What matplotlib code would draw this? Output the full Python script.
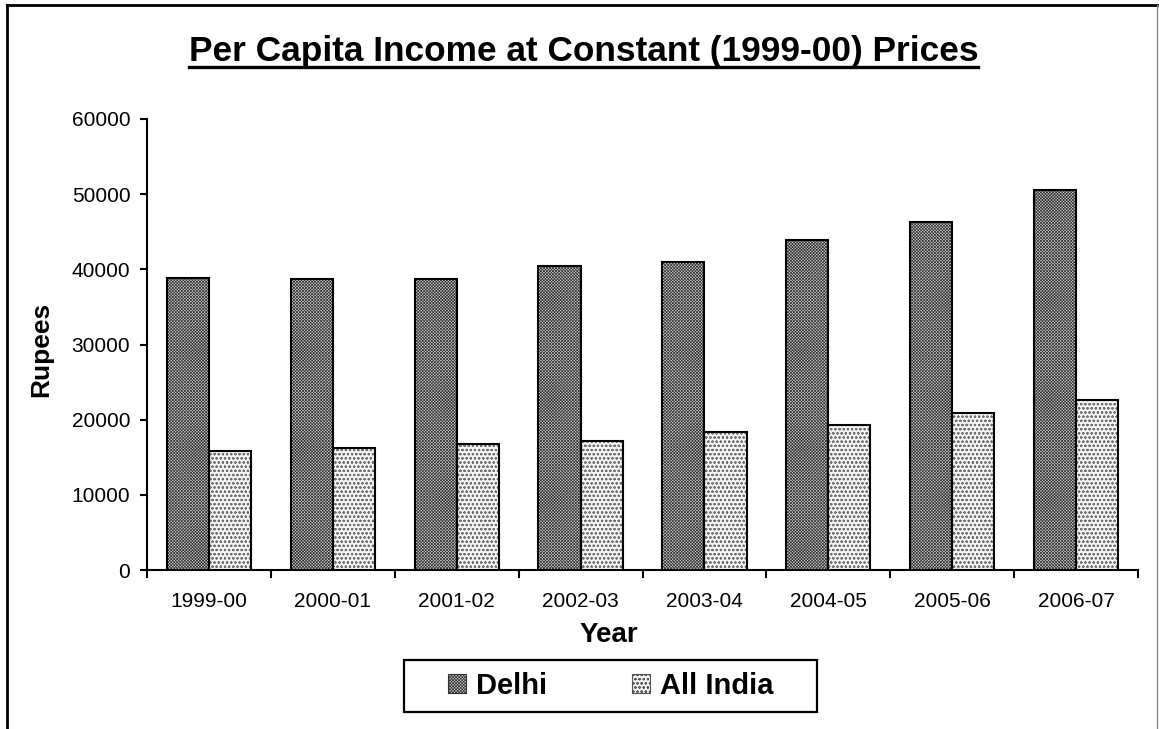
import matplotlib
matplotlib.use("Agg")
import matplotlib.pyplot as plt
import numpy as np
from matplotlib.patches import Rectangle, Patch
from matplotlib.lines import Line2D

years = ["1999-00", "2000-01", "2001-02", "2002-03", "2003-04", "2004-05", "2005-06", "2006-07"]
delhi = [38800, 38700, 38700, 40500, 41000, 43900, 46300, 50600]
all_india = [15850, 16200, 16750, 17100, 18300, 19300, 20850, 22550]
y_ticks = [0, 10000, 20000, 30000, 40000, 50000, 60000]

plt.rcParams['font.family'] = ['Liberation Sans', 'DejaVu Sans']
plt.rcParams['hatch.linewidth'] = 0.5

W, H = 1159, 729
fig = plt.figure(figsize=(W / 100, H / 100), dpi=100)
ax = fig.add_axes([147 / W, 1 - 570 / H, 991 / W, 451 / H])

x = np.arange(len(years))
bw = 0.34
d_face, d_hatch = '#d2d2d2', 'x' * 11
a_face, a_hatch = '#f4f4f4', 'o' * 4
# hatch drawn without edge, then black outline on top
ax.bar(x - bw / 2, delhi, bw, facecolor=d_face, edgecolor='#303030',
       hatch=d_hatch, linewidth=0, zorder=3)
ax.bar(x + bw / 2, all_india, bw, facecolor=a_face, edgecolor='#707070',
       hatch=a_hatch, linewidth=0, zorder=3)
ax.bar(x - bw / 2, delhi, bw, facecolor='none', edgecolor='black', linewidth=1.5, zorder=4)
ax.bar(x + bw / 2, all_india, bw, facecolor='none', edgecolor='black', linewidth=1.5, zorder=4)

ax.set_xlim(-0.5, len(years) - 0.5)
ax.set_ylim(0, 60000)
ax.set_yticks(y_ticks)
ax.set_yticklabels([str(v) for v in y_ticks], fontsize=15)
ax.set_xticks(np.arange(len(years) + 1) - 0.5)
ax.set_xticklabels([])
ax.set_xticks(x, minor=True)
ax.set_xticklabels(years, minor=True, fontsize=15)
ax.tick_params(axis='x', which='minor', length=0, pad=16)
ax.tick_params(axis='x', which='major', direction='out', length=6, width=1.5)
ax.tick_params(axis='y', direction='out', length=5, width=1.5, pad=7)
for s in ['top', 'right']:
    ax.spines[s].set_visible(False)
for s in ['left', 'bottom']:
    ax.spines[s].set_linewidth(1.5)

# titles and axis labels
fig.text(583.5 / W, 1 - 52 / H, "Per Capita Income at Constant (1999-00) Prices",
         ha='center', va='center', fontsize=25.4, fontweight='bold')
fig.add_artist(Line2D([189 / W, 978 / W], [1 - 66.5 / H, 1 - 66.5 / H],
                      color='black', linewidth=2.4))
fig.text(41.5 / W, 1 - 349 / H, "Rupees", rotation=90, ha='center', va='center',
         fontsize=19, fontweight='bold')
fig.text(609 / W, 1 - 635 / H, "Year", ha='center', va='center',
         fontsize=20, fontweight='bold')

# legend
handles = [Patch(facecolor=d_face, edgecolor='#303030', hatch=d_hatch, linewidth=0.8),
           Patch(facecolor=a_face, edgecolor='#555555', hatch=a_hatch, linewidth=0.8)]
fig.legend(handles, ["Delhi", "All India"], loc='center', ncol=2,
           bbox_to_anchor=(611 / W, 1 - 686 / H), frameon=False,
           prop={'weight': 'bold', 'size': 21}, handlelength=0.62, handleheight=0.62,
           handletextpad=0.34, columnspacing=2.9)
fig.add_artist(Rectangle((404 / W, 1 - 712 / H), 413 / W, 52 / H, fill=False,
                         edgecolor='black', linewidth=1.6, transform=fig.transFigure))

# outer frame (bottom edge falls outside the picture)
fig.add_artist(Line2D([6.5 / W, 6.5 / W], [0, 1 - 5 / H], color='black', linewidth=2))
fig.add_artist(Line2D([6.5 / W, 1157 / W], [1 - 5 / H, 1 - 5 / H], color='black', linewidth=2))
fig.add_artist(Line2D([1157 / W, 1157 / W], [0, 1 - 5 / H], color='#888888', linewidth=1))

fig.savefig("out.png", dpi=100)
